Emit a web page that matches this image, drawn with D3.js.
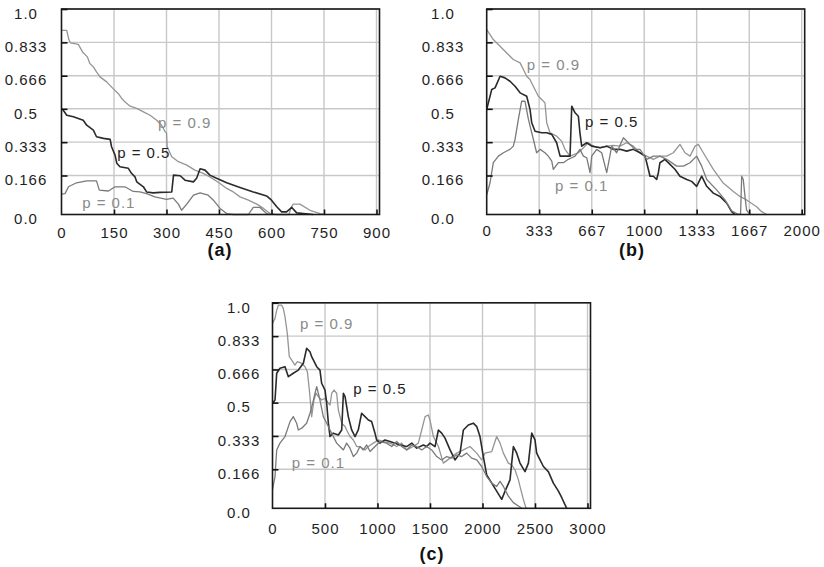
<!DOCTYPE html>
<html lang="en">
<head>
  <meta charset="UTF-8">
  <title>p curves</title>
  <script src="https://d3js.org/d3.v7.min.js"></script>
  <style>
    body { margin: 0; background: #fff; }
    svg { display: block; font-family: Arial, "Liberation Sans", sans-serif; }
    .tick text { font-size: 15px; fill: #1e1e1e; letter-spacing: 1px; }
    .grid line { stroke: #c8c8c8; stroke-width: 1.4; }
    .series { fill: none; stroke-linejoin: round; }
    .plabel { font-size: 15px; letter-spacing: 1px; }
    .caption { font-size: 18px; font-weight: bold; letter-spacing: 1px; fill: #111; }
  </style>
</head>
<body>
  <svg id="chart"></svg>
  <script>
    // tick values / labels
    const yTickValues = [0, 0.166, 0.333, 0.5, 0.666, 0.833, 1.0];
    const yTickLabels = ["0.0", "0.166", "0.333", "0.5", "0.666", "0.833", "1.0"];
    const xTicksA = [0, 150, 300, 450, 600, 750, 900];
    const xTicksB = [0, 333, 667, 1000, 1333, 1667, 2000];
    const xTicksC = [0, 500, 1000, 1500, 2000, 2500, 3000];
    const seriesNames = ["p = 0.9", "p = 0.5", "p = 0.1"];
    const captions = ["(a)", "(b)", "(c)"];

    // panel (a)
    const a09 = [[0,0.893],[15,0.893],[21,0.847],[26,0.83],[48,0.823],[60,0.785],[74,0.76],[81,0.727],[91,0.71],[100,0.685],
      [110,0.66],[129,0.635],[148,0.60],[162,0.577],[172,0.552],[181,0.535],[196,0.513],[215,0.502],[234,0.485],[253,0.468],
      [272,0.443],[286,0.418],[296,0.385],[300,0.38],[302,0.31],[315,0.26],[334,0.235],[358,0.218],[381,0.193],[405,0.177],
      [424,0.16],[453,0.132],[472,0.111],[491,0.096],[510,0.075],[534,0.061],[558,0.044],[577,0.026],[596,0.004],[615,0],
      [650,0],[655,0.026],[662,0.044],[681,0.044],[710,0.018],[739,0.004],[753,0]];
    const a05 = [[0,0.5],[5,0.493],[15,0.468],[34,0.46],[62,0.443],[72,0.418],[91,0.393],[100,0.36],[120,0.352],[139,0.347],
      [143,0.31],[153,0.268],[158,0.227],[167,0.21],[191,0.202],[200,0.177],[210,0.16],[215,0.139],[234,0.118],[243,0.096],
      [262,0.092],[281,0.094],[315,0.096],[320,0.168],[339,0.165],[353,0.146],[377,0.139],[386,0.154],[396,0.2],[410,0.193],
      [424,0.168],[443,0.154],[472,0.135],[510,0.115],[548,0.096],[586,0.079],[600,0.061],[615,0.033],[629,0.011],[643,0.011],
      [658,0.03],[672,0.007],[691,0.004],[719,0]];
    const a01 = [[0,0.087],[10,0.089],[20,0.118],[43,0.135],[72,0.143],[100,0.143],[108,0.104],[134,0.10],[153,0.118],[181,0.118],
      [205,0.098],[224,0.096],[243,0.089],[267,0.075],[300,0.064],[319,0.07],[334,0.044],[343,0.018],[358,0.044],[377,0.082],
      [396,0.092],[419,0.082],[434,0.061],[453,0.026],[472,0.004],[491,0],[534,0],[548,0.03],[567,0.03],[586,0.004],[596,0]];

    // panel (b)
    const b09 = [[0,0.897],[42,0.847],[85,0.813],[127,0.78],[169,0.747],[212,0.73],[233,0.697],[254,0.663],[275,0.647],[296,0.613],
      [328,0.563],[349,0.547],[370,0.53],[381,0.43],[402,0.38],[444,0.363],[476,0.338],[497,0.297],[529,0.263],[582,0.28],
      [614,0.305],[645,0.33],[677,0.313],[720,0.305],[762,0.313],[804,0.317],[846,0.313],[889,0.33],[931,0.313],[973,0.28],
      [1016,0.263],[1058,0.247],[1100,0.263],[1143,0.263],[1185,0.28],[1227,0.322],[1259,0.28],[1291,0.263],[1323,0.313],
      [1344,0.322],[1375,0.28],[1439,0.197],[1502,0.134],[1566,0.098],[1608,0.077],[1650,0.062],[1714,0.033],[1746,0.012],[1778,0]];
    const b05 = [[0,0.497],[32,0.597],[53,0.605],[85,0.663],[116,0.655],[148,0.638],[180,0.613],[212,0.58],[254,0.563],[275,0.497],
      [286,0.43],[307,0.388],[349,0.38],[381,0.38],[413,0.372],[444,0.33],[466,0.263],[497,0.263],[529,0.263],[540,0.513],
      [561,0.48],[582,0.463],[592,0.38],[603,0.313],[635,0.33],[667,0.313],[720,0.305],[762,0.313],[804,0.297],[846,0.297],
      [889,0.288],[931,0.297],[973,0.28],[1005,0.263],[1016,0.23],[1037,0.163],[1058,0.163],[1079,0.149],[1090,0.18],[1100,0.23],
      [1132,0.247],[1164,0.222],[1195,0.197],[1227,0.163],[1270,0.149],[1301,0.141],[1333,0.12],[1365,0.163],[1397,0.12],
      [1439,0.091],[1481,0.077],[1524,0.048],[1555,0.012],[1576,0]];
    const b01 = [[0,0.084],[21,0.134],[42,0.23],[74,0.263],[106,0.28],[148,0.297],[169,0.313],[180,0.347],[201,0.447],[222,0.538],
      [243,0.538],[265,0.447],[286,0.38],[317,0.28],[339,0.297],[370,0.28],[391,0.263],[413,0.238],[423,0.197],[455,0.23],
      [487,0.23],[518,0.247],[540,0.255],[561,0.263],[592,0.297],[614,0.263],[635,0.255],[656,0.18],[667,0.263],[698,0.297],
      [730,0.28],[762,0.18],[794,0.313],[825,0.28],[868,0.355],[899,0.33],[942,0.297],[973,0.297],[1016,0.247],[1058,0.263],
      [1100,0.263],[1143,0.247],[1206,0.213],[1249,0.213],[1291,0.23],[1333,0.263],[1365,0.213],[1397,0.149],[1460,0.105],
      [1513,0.062],[1555,0.016],[1598,0],[1612,0.004],[1619,0.163],[1629,0.149],[1640,0.076],[1650,0.019],[1672,0]];

    // panel (c)
    const c09 = [[0,0.897],[24,0.922],[40,0.963],[56,0.988],[87,0.988],[103,0.972],[119,0.93],[141,0.847],[160,0.73],[183,0.713],
      [214,0.688],[237,0.705],[278,0.697],[310,0.68],[332,0.655],[351,0.563],[373,0.43],[395,0.513],[414,0.547],[437,0.53],
      [468,0.513],[500,0.522],[532,0.497],[548,0.488],[564,0.547],[586,0.563],[611,0.547],[627,0.463],[659,0.397],[691,0.38],
      [706,0.363],[738,0.33],[770,0.313],[802,0.28],[833,0.28],[881,0.263],[913,0.28],[960,0.297],[1008,0.313],[1056,0.305],
      [1119,0.297],[1183,0.28],[1230,0.297],[1278,0.263],[1341,0.28],[1389,0.297],[1421,0.363],[1453,0.43],[1484,0.438],
      [1500,0.413],[1532,0.33],[1580,0.28],[1627,0.197],[1691,0.222],[1754,0.247],[1818,0.263],[1881,0.28],[1945,0.247],
      [1992,0.213],[2024,0.247],[2088,0.255],[2135,0.33],[2167,0.297],[2199,0.247],[2246,0.197],[2278,0.188],[2310,0.163],
      [2342,0.121],[2357,0.093],[2389,0.038],[2415,0]];
    const c05 = [[0,0.497],[24,0.513],[40,0.647],[71,0.672],[119,0.68],[151,0.63],[198,0.647],[246,0.663],[294,0.697],[325,0.772],
      [357,0.755],[373,0.73],[421,0.68],[452,0.663],[468,0.597],[500,0.563],[516,0.497],[532,0.397],[548,0.33],[579,0.347],
      [627,0.338],[659,0.363],[675,0.547],[691,0.53],[722,0.43],[754,0.363],[786,0.33],[817,0.363],[849,0.447],[881,0.43],
      [913,0.413],[944,0.405],[976,0.347],[992,0.313],[1024,0.297],[1071,0.313],[1119,0.305],[1167,0.297],[1214,0.288],
      [1278,0.28],[1326,0.297],[1373,0.272],[1437,0.288],[1468,0.28],[1500,0.297],[1548,0.28],[1580,0.363],[1611,0.347],
      [1643,0.322],[1691,0.263],[1738,0.213],[1786,0.247],[1818,0.363],[1865,0.388],[1913,0.397],[1945,0.38],[1976,0.33],
      [2008,0.23],[2040,0.142],[2088,0.107],[2135,0.073],[2183,0.038],[2215,0.073],[2262,0.121],[2294,0.28],[2326,0.247],
      [2357,0.197],[2405,0.156],[2437,0.197],[2469,0.347],[2500,0.313],[2516,0.247],[2548,0.213],[2580,0.18],[2627,0.156],
      [2675,0.107],[2723,0.073],[2755,0.045],[2802,0]];
    const c01 = [[0,0.08],[24,0.135],[40,0.263],[71,0.297],[119,0.33],[167,0.405],[198,0.43],[230,0.397],[246,0.363],[278,0.372],
      [325,0.397],[357,0.447],[383,0.497],[405,0.547],[421,0.58],[452,0.513],[484,0.43],[516,0.397],[548,0.363],[579,0.33],
      [611,0.297],[643,0.28],[675,0.263],[706,0.297],[738,0.272],[770,0.23],[802,0.247],[833,0.28],[865,0.263],[897,0.288],
      [929,0.255],[976,0.28],[1024,0.305],[1087,0.297],[1135,0.28],[1183,0.305],[1230,0.28],[1278,0.263],[1326,0.288],
      [1373,0.28],[1421,0.263],[1468,0.28],[1516,0.263],[1564,0.23],[1611,0.213],[1659,0.23],[1707,0.222],[1754,0.238],
      [1802,0.23],[1849,0.247],[1897,0.222],[1945,0.213],[1992,0.18],[2040,0.135],[2088,0.107],[2135,0.093],[2167,0.115],
      [2199,0.093],[2246,0.052],[2294,0.024],[2342,0.01],[2373,0]];

    // ---- layout ----
    const width = 824, height = 567;
    const plotW = 315, frameW = 318, plotH = 205.5, lowBand = 39;
    const colors = ["#959595", "#2a2a2a", "#7a7a7a"];
    const labelColors = ["#8a8a8a", "#222", "#8a8a8a"];

    const panels = [
      { left: 61.5, top: 9, xMax: 900, xTicks: xTicksA, series: [a09, a05, a01],
        yLabelX: 26, xLabelDy: 13, cap: [220, 250],
        labelAt: [[276, 0.431], [159, 0.279], [59, 0.048]] },
      { left: 486.7, top: 9, xMax: 2000, xTicks: xTicksB, series: [b09, b05, b01],
        yLabelX: 443, xLabelDy: 11, cap: [632, 250],
        labelAt: [[254, 0.722], [624, 0.433], [434, 0.123]] },
      { left: 272.5, top: 302.8, xMax: 3000, xTicks: xTicksC, series: [c09, c05, c01],
        yLabelX: 239, xLabelDy: 15, cap: [432, 554],
        labelAt: [[262, 0.893], [770, 0.567], [183, 0.2]] }
    ];

    const svg = d3.select("#chart").attr("width", width).attr("height", height);
    svg.append("rect").attr("width", width).attr("height", height).attr("fill", "#fff");

    panels.forEach((p, i) => {
      const bottom = p.top + plotH;
      const x = d3.scaleLinear().domain([0, p.xMax]).range([p.left, p.left + plotW]);
      // the 0..0.166 band is drawn a bit taller than the others
      const y = d3.scaleLinear()
        .domain([0, 0.166, 1])
        .range([bottom, bottom - lowBand, p.top]);

      const g = svg.append("g");

      // grid
      const grid = g.append("g").attr("class", "grid");
      grid.selectAll(".gx")
        .data(p.xTicks.slice(1))
        .enter().append("line")
        .attr("x1", d => x(d)).attr("x2", d => x(d))
        .attr("y1", p.top).attr("y2", bottom);
      grid.selectAll(".gy")
        .data(yTickValues.slice(1))
        .enter().append("line")
        .attr("x1", p.left).attr("x2", p.left + frameW)
        .attr("y1", d => y(d)).attr("y2", d => y(d));

      // series
      const line = d3.line().x(d => x(d[0])).y(d => y(d[1]));
      p.series.forEach((s, k) => {
        g.append("path")
          .datum(s)
          .attr("class", "series")
          .attr("stroke", colors[k])
          .attr("stroke-width", k === 1 ? 1.6 : 1.3)
          .attr("d", line);
      });

      // frame
      g.append("rect")
        .attr("x", p.left).attr("y", p.top)
        .attr("width", frameW).attr("height", plotH)
        .attr("fill", "none").attr("stroke", "#1a1a1a").attr("stroke-width", 1.6);

      // x axis
      const xAxis = d3.axisBottom(x)
        .tickValues(p.xTicks)
        .tickFormat(d3.format("d"))
        .tickSizeInner(-5).tickSizeOuter(0)
        .tickPadding(p.xLabelDy);
      const gx = g.append("g")
        .attr("transform", `translate(0,${bottom})`)
        .call(xAxis);
      gx.select(".domain").remove();
      gx.selectAll(".tick line").attr("stroke", "#111").attr("stroke-width", 1.6);
      gx.selectAll(".tick").filter(d => d === 0).select("line").remove();

      // y axis
      const yAxis = d3.axisLeft(y)
        .tickValues(yTickValues)
        .tickFormat((d, j) => yTickLabels[j])
        .tickSizeInner(-6).tickSizeOuter(0);
      const gy = g.append("g")
        .attr("transform", `translate(${p.left},0)`)
        .call(yAxis);
      gy.select(".domain").remove();
      gy.selectAll(".tick line").attr("stroke", "#111").attr("stroke-width", 1.6);
      gy.selectAll(".tick").filter(d => d === 0).select("line").remove();
      gy.selectAll(".tick text")
        .attr("text-anchor", "middle")
        .attr("x", p.yLabelX - p.left)
        .attr("dy", "0.62em");

      // series labels
      p.labelAt.forEach((pos, k) => {
        g.append("text")
          .attr("class", "plabel")
          .attr("x", x(pos[0]))
          .attr("y", y(pos[1]))
          .attr("dy", "0.35em")
          .attr("fill", labelColors[k])
          .text(seriesNames[k]);
      });

      // caption
      g.append("text")
        .attr("class", "caption")
        .attr("x", p.cap[0]).attr("y", p.cap[1])
        .attr("text-anchor", "middle")
        .attr("dy", "0.36em")
        .text(captions[i]);
    });
  </script>
</body>
</html>
